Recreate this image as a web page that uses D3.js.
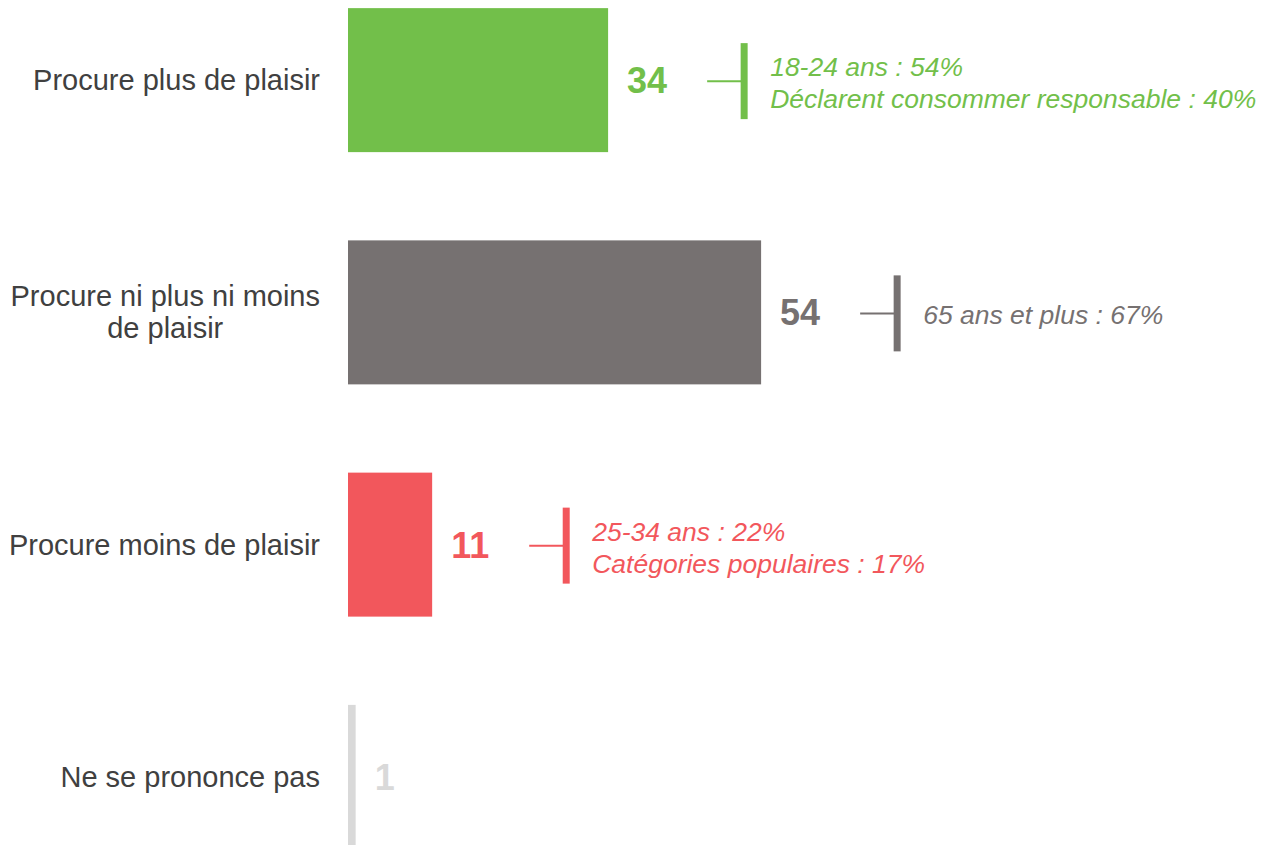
<!DOCTYPE html>
<html>
<head>
<meta charset="utf-8">
<script src="https://cdn.jsdelivr.net/npm/d3@7"></script>
<style>
  body { margin: 0; background: #fff; }
  svg { display: block; font-family: "Liberation Sans", Arial, sans-serif; }
</style>
</head>
<body>
<div id="chart"></div>
<script>
"use strict"

// data
const categories = [
  ["Procure plus de plaisir"],
  ["Procure ni plus ni moins", "de plaisir"],
  ["Procure moins de plaisir"],
  ["Ne se prononce pas"]
]
const values = [34, 54, 11, 1]
const colors = ["#72BF4A", "#767171", "#F2575C", "#D9D9D9"]
const callouts = [
  ["18-24 ans : 54%", "Déclarent consommer responsable : 40%"],
  ["65 ans et plus : 67%"],
  ["25-34 ans : 22%", "Catégories populaires : 17%"],
  []
]

const width = 1274
const height = 845

const svg = d3.select("#chart").append("svg")
  .attr("width", width)
  .attr("height", height)

const x = d3.scaleLinear()
  .domain([0, 100])
  .range([348, 1113])

const y = d3.scaleBand()
  .domain(d3.range(values.length))
  .range([-36, 893])
  .paddingInner(0.38)
  .paddingOuter(0.19)

const rows = values.map((v, i) => ({ i, v, label: categories[i], color: colors[i], notes: callouts[i] }))

const row = svg.selectAll("g.row")
  .data(rows)
  .enter()
  .append("g")
    .attr("class", "row")

// bars
row.append("rect")
  .attr("x", x(0))
  .attr("y", (d) => y(d.i))
  .attr("width", (d) => x(d.v) - x(0))
  .attr("height", y.bandwidth())
  .attr("fill", (d) => d.color)

// category labels, right aligned, multi-line centred on the longest line
row.each(function(d) {
  const g = d3.select(this)
  const cy = y(d.i) + y.bandwidth() / 2
  const lineH = 32
  const t = g.append("text")
    .attr("fill", "#404040")
    .attr("font-size", "29px")
  d.label.forEach((line, j) => {
    t.append("tspan")
      .attr("y", cy + 10 + (j - (d.label.length - 1) / 2) * lineH)
      .text(line)
  })
  const tspans = t.selectAll("tspan").nodes()
  const maxW = d3.max(tspans, (n) => n.getComputedTextLength())
  const right = 320
  if (d.label.length > 1) {
    t.attr("text-anchor", "middle")
    t.selectAll("tspan").attr("x", right - maxW / 2)
  } else {
    t.attr("text-anchor", "end")
    t.selectAll("tspan").attr("x", right)
  }
})

// value labels + callouts
row.each(function(d) {
  const g = d3.select(this)
  const cy = y(d.i) + y.bandwidth() / 2
  const val = g.append("text")
    .attr("x", x(d.v) + 19)
    .attr("y", cy + 13)
    .attr("font-size", "36px")
    .attr("font-weight", "bold")
    .attr("fill", d.color)
    .text(d.v)

  if (!d.notes.length) return

  const end = x(d.v) + 19 + val.node().getComputedTextLength()
  const ly = cy + 1
  const vx = end + 77
  const hx = vx - 37

  g.append("line")
    .attr("x1", hx)
    .attr("x2", vx)
    .attr("y1", ly)
    .attr("y2", ly)
    .attr("stroke", d.color)
    .attr("stroke-width", 2)

  g.append("line")
    .attr("x1", vx)
    .attr("x2", vx)
    .attr("y1", ly - 38)
    .attr("y2", ly + 38)
    .attr("stroke", d.color)
    .attr("stroke-width", 7)

  const note = g.append("text")
    .attr("font-size", "26.5px")
    .attr("font-style", "italic")
    .attr("fill", d.color)
  d.notes.forEach((line, j) => {
    note.append("tspan")
      .attr("x", vx + 26)
      .attr("y", ly + 11 + (j - (d.notes.length - 1) / 2) * 32)
      .text(line)
  })
})
</script>
</body>
</html>
